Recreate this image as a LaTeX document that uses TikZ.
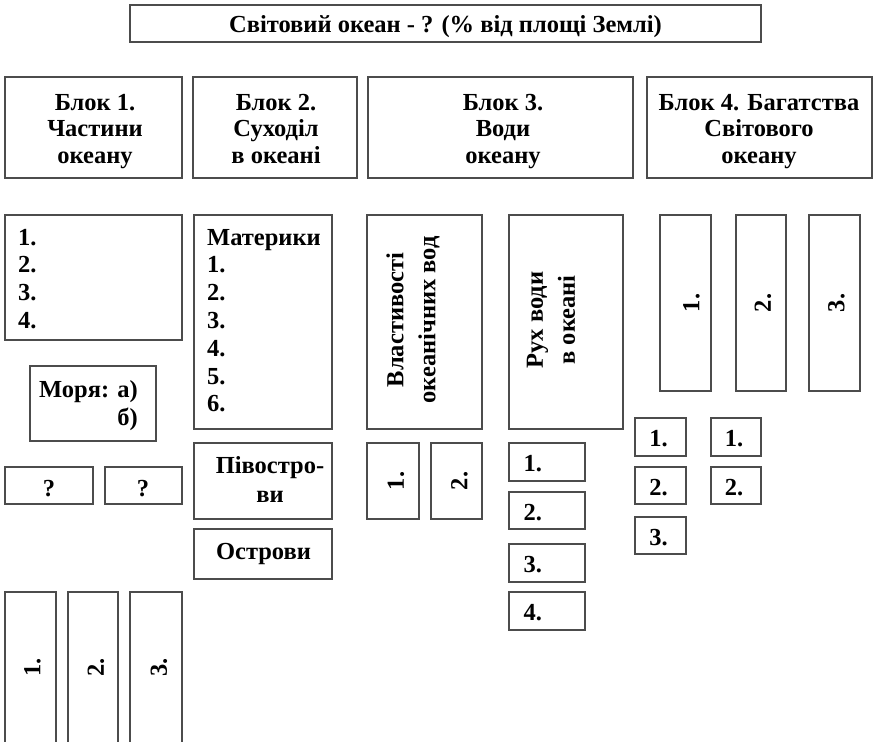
\documentclass[tikz,border=0pt]{standalone}
\usepackage{fontspec}
\setmainfont{Liberation Serif}
\newcommand\bodyfont[1][27.5]{\bfseries\fontsize{24.5}{#1}\selectfont}
% box from its two corners: [options]{name}{x1}{y1}{x2}{y2}
\newcommand\rbox[6][]{\node[box,#1,minimum width={#5-#3},minimum height={#6-#4}] (#2) at ({(#3+#5)/2},{(#4+#6)/2}) {}}
\tikzset{
  box/.style={draw=black!70, line width=1.3pt, inner sep=0pt},
  txt/.style={font=\bodyfont, inner sep=0pt},
  ctxt/.style={txt, anchor=base, align=center},
  ltxt/.style={txt, anchor=base west, align=left},
  vtxt/.style={txt, rotate=90},
  two/.style={font={\bodyfont[32]}, align=center},
}
\begin{document}
\begin{tikzpicture}[x=1pt,y=-1pt]
\fill[white] (0,0) rectangle (874,741);
\useasboundingbox (0,0) rectangle (874,741);

% heading
\rbox{title}{130}{5}{761}{42};
\node[ctxt] (titlet) at (445.5,33) {Світовий океан - ? (\% від площі Землі)};

% the four blocks (multi-line texts are placed by the baseline of their last line)
\rbox{b1}{5}{77}{182}{178};
\rbox{b2}{193}{77}{357}{178};
\rbox{b3}{368}{77}{633}{178};
\rbox{b4}{647}{77}{872}{178};
\tikzset{head/.style={ctxt, font={\bodyfont[26.7]}}}
\node[head] (b1t) at (95,163.4) {Блок 1.\\Частини\\океану};
\node[head] (b2t) at (276,163.4) {Блок 2.\\Суходіл\\в океані};
\node[head] (b3t) at (503,163.4) {Блок 3.\\Води\\океану};
\node[head] (b4t) at (759,163.4) {Блок 4. Багатства\\Світового\\океану};

% block 1: parts of the ocean
\rbox{parts}{5}{215}{182}{340};
\node[ltxt, font={\bodyfont[27.7]}] (partst) at (18,328.1) {1.\\2.\\3.\\4.};
\rbox{seas}{30}{366}{156}{441};
\node[txt, anchor=base east, align=right, font={\bodyfont[28]}] (seast) at (138,425) {Моря: а)\\б)};
\rbox{q1}{5}{467}{93}{504};
\rbox{q2}{105}{467}{182}{504};
\node[ctxt] (q1t) at (49,496) {?};
\node[ctxt] (q2t) at (143,496) {?};
\rbox{s1}{5}{592}{56}{742.5};
\rbox{s2}{68}{592}{118}{742.5};
\rbox{s3}{130}{592}{182}{742.5};
\node[vtxt] (s1t) at ([xshift=2]s1.center) {1.};
\node[vtxt] (s2t) at ([xshift=3]s2.center) {2.};
\node[vtxt] (s3t) at ([xshift=3]s3.center) {3.};

% block 2: land in the ocean
\rbox{cont}{194}{215}{332}{429};
\node[ltxt, font={\bodyfont[27.8]}] (contt) at (207,411.8) {Материки\\1.\\2.\\3.\\4.\\5.\\6.};
\rbox{pen}{194}{443}{332}{519};
\node[ctxt, font={\bodyfont[29]}] (pent) at (270,502) {Півостро-\\ви};
\rbox{isl}{194}{529}{332}{579};
\node[ctxt] (islt) at (263.5,559) {Острови};

% block 3: ocean waters
\rbox{prop}{367}{215}{482}{429};
\node[vtxt, two] (propt) at (413,320) {Властивості\\океанічних вод};
\rbox{move}{509}{215}{623}{429};
\node[vtxt, two] (movet) at (551,320) {Рух води\\в океані};
\rbox{p1}{367}{443}{419}{519};
\rbox{p2}{431}{443}{482}{519};
\node[vtxt] (p1t) at ([xshift=3]p1.center) {1.};
\node[vtxt] (p2t) at ([xshift=3]p2.center) {2.};
\rbox{r1}{509}{443}{585}{481};
\rbox{r2}{509}{492}{585}{529};
\rbox{r3}{509}{544}{585}{582};
\rbox{r4}{509}{592}{585}{630};
\node[ltxt] (r1t) at ([shift={(15,29.5)}]r1.north west) {1.};
\node[ltxt] (r2t) at ([shift={(15,29.5)}]r2.north west) {2.};
\node[ltxt] (r3t) at ([shift={(15,29.5)}]r3.north west) {3.};
\node[ltxt] (r4t) at ([shift={(15,29.5)}]r4.north west) {4.};

% block 4: riches of the ocean
\rbox{w1}{660}{215}{711}{391};
\rbox{w2}{736}{215}{786}{391};
\rbox{w3}{809}{215}{860}{391};
\node[vtxt] (w1t) at ([xshift=6]w1.center) {1.};
\node[vtxt] (w2t) at ([xshift=2]w2.center) {2.};
\node[vtxt] (w3t) at ([xshift=2]w3.center) {3.};
\rbox{c1}{635}{418}{686}{456};
\rbox{c2}{635}{467}{686}{504};
\rbox{c3}{635}{517}{686}{554};
\rbox{d1}{711}{418}{761}{456};
\rbox{d2}{711}{467}{761}{504};
\node[ctxt] (c1t) at ([shift={(-2,29.5)}]c1.north) {1.};
\node[ctxt] (c2t) at ([shift={(-2,29.5)}]c2.north) {2.};
\node[ctxt] (c3t) at ([shift={(-2,29.5)}]c3.north) {3.};
\node[ctxt] (d1t) at ([shift={(-2,29.5)}]d1.north) {1.};
\node[ctxt] (d2t) at ([shift={(-2,29.5)}]d2.north) {2.};
\end{tikzpicture}
\end{document}
